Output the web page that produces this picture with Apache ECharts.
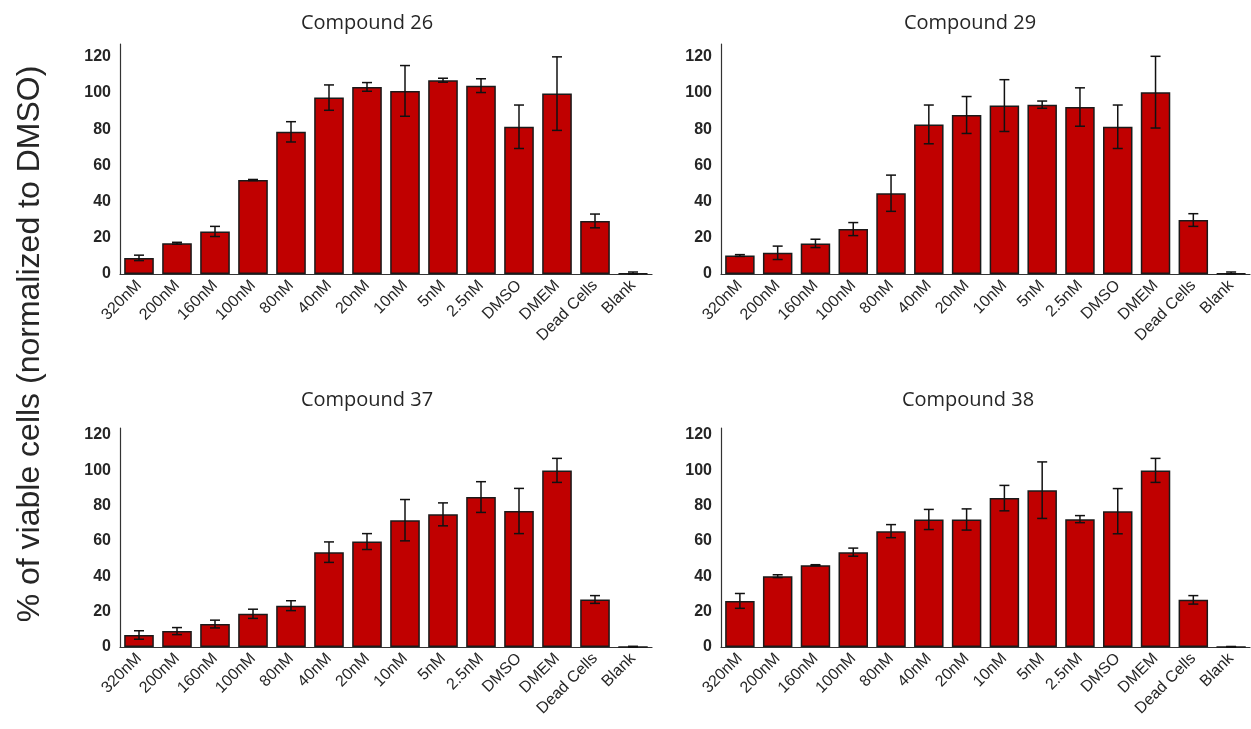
<!DOCTYPE html>
<html>
<head>
<meta charset="utf-8">
<script src="https://cdn.jsdelivr.net/npm/echarts@6/dist/echarts.min.js"></script>
<style>
  html, body { margin: 0; padding: 0; background: #ffffff; }
  #chart { width: 1251px; height: 729px; }
</style>
</head>
<body>
<div id="chart"></div>
<script>
// Treatment groups along the x axis (shared by all four panels)
const categories = ['320nM', '200nM', '160nM', '100nM', '80nM', '40nM', '20nM', '10nM', '5nM', '2.5nM', 'DMSO', 'DMEM', 'Dead Cells', 'Blank'];

// Mean % viable cells and error (±) per compound
const c26Mean = [8.9, 17.0, 23.5, 51.9, 78.5, 97.4, 103.3, 101.1, 107.0, 104.0, 81.3, 99.6, 29.3, 0.3];
const c26Err  = [1.5, 0.5, 2.8, 0.3, 5.6, 7.0, 2.4, 14.0, 1.1, 3.8, 12.0, 20.3, 3.8, 0.8];

const c29Mean = [10.2, 11.7, 16.9, 24.8, 44.6, 82.6, 87.8, 93.0, 93.5, 92.2, 81.3, 100.4, 29.8, 0.3];
const c29Err  = [0.5, 3.7, 2.3, 3.6, 10.0, 10.7, 10.2, 14.3, 2.0, 10.6, 12.0, 19.8, 3.5, 0.8];

const c37Mean = [6.8, 9.0, 13.0, 18.8, 23.4, 53.7, 59.7, 71.8, 75.1, 84.9, 77.0, 100.0, 26.9, 0.1];
const c37Err  = [2.4, 2.0, 2.2, 2.6, 2.8, 5.8, 4.5, 11.7, 6.5, 8.7, 12.8, 6.8, 2.2, 0.3];

const c38Mean = [26.1, 40.1, 46.3, 53.7, 65.6, 72.2, 72.2, 84.3, 88.8, 72.4, 76.9, 100.0, 26.7, 0.1];
const c38Err  = [4.2, 0.8, 0.3, 2.3, 3.7, 5.7, 6.0, 7.2, 16.0, 2.0, 12.8, 6.8, 2.4, 0.2];

const panelTitles = ['Compound 26', 'Compound 29', 'Compound 37', 'Compound 38'];
const yTicks = [0, 20, 40, 60, 80, 100, 120];
const yTitle = '% of viable cells (normalized to DMSO)';

const panels = [
  { mean: c26Mean, err: c26Err },
  { mean: c29Mean, err: c29Err },
  { mean: c37Mean, err: c37Err },
  { mean: c38Mean, err: c38Err }
];

// Panel layout (pixels)
const grids = [
  { left: 120, top: 44, width: 532, height: 230, max: 127 },
  { left: 721, top: 44, width: 529, height: 230, max: 127 },
  { left: 120, top: 428, width: 532, height: 219, max: 124 },
  { left: 721, top: 428, width: 529, height: 219, max: 124 }
];
const titlePos = [[367, 23], [970, 23], [367, 400], [968, 400]];

const textColor = '#262626';
const barColor = '#c00000';

// Vertical error bar with caps, drawn in data coordinates
function renderErrorBar(params, api) {
  const x = api.value(0);
  const lo = api.coord([x, api.value(1)]);
  const hi = api.coord([x, api.value(2)]);
  const half = 5;
  const style = { stroke: '#111111', lineWidth: 1.5 };
  return {
    type: 'group',
    children: [
      { type: 'line', shape: { x1: hi[0], y1: hi[1], x2: lo[0], y2: lo[1] }, style: style },
      { type: 'line', shape: { x1: hi[0] - half, y1: hi[1], x2: hi[0] + half, y2: hi[1] }, style: style },
      { type: 'line', shape: { x1: lo[0] - half, y1: lo[1], x2: lo[0] + half, y2: lo[1] }, style: style }
    ]
  };
}

const option = {
  backgroundColor: '#ffffff',
  animation: false,
  grid: grids.map(g => ({ left: g.left, top: g.top, width: g.width, height: g.height, containLabel: false })),
  xAxis: grids.map((g, i) => ({
    type: 'category',
    gridIndex: i,
    data: categories,
    axisLine: { show: true, lineStyle: { color: '#333333', width: 1.2 } },
    axisTick: { show: false },
    axisLabel: {
      interval: 0,
      rotate: 45,
      margin: 9,
      color: textColor,
      fontFamily: 'Liberation Sans, Arial, sans-serif',
      fontSize: 16
    }
  })),
  yAxis: grids.map((g, i) => ({
    type: 'value',
    gridIndex: i,
    min: 0,
    max: g.max,
    interval: 20,
    splitLine: { show: false },
    axisTick: { show: false },
    axisLine: { show: true, lineStyle: { color: '#333333', width: 1.2 } },
    axisLabel: {
      showMaxLabel: false,
      margin: 9,
      color: textColor,
      fontFamily: 'Liberation Sans, Arial, sans-serif',
      fontWeight: 'bold',
      fontSize: 16,
      formatter: v => (yTicks.indexOf(v) >= 0 ? String(v) : '')
    }
  })),
  series: [],
  graphic: []
};

panels.forEach((p, i) => {
  option.series.push({
    type: 'bar',
    xAxisIndex: i,
    yAxisIndex: i,
    data: p.mean,
    barCategoryGap: '22%',
    itemStyle: { color: barColor, borderColor: '#1a1a1a', borderWidth: 1.5 }
  });
  option.series.push({
    type: 'custom',
    xAxisIndex: i,
    yAxisIndex: i,
    z: 5,
    renderItem: renderErrorBar,
    encode: { x: 0, y: [1, 2] },
    data: p.mean.map((m, k) => [k, Math.max(0, m - p.err[k]), m + p.err[k]])
  });
  option.graphic.push({
    type: 'text',
    x: titlePos[i][0],
    y: titlePos[i][1],
    style: {
      text: panelTitles[i],
      font: '20px "Open Sans", "Noto Sans", sans-serif',
      fill: textColor,
      textAlign: 'center',
      textVerticalAlign: 'middle'
    }
  });
});

// Shared y-axis title, rotated
option.graphic.push({
  type: 'text',
  x: 30,
  y: 344,
  rotation: Math.PI / 2,
  style: {
    text: yTitle,
    font: '32px "Liberation Sans", Arial, sans-serif',
    fill: textColor,
    textAlign: 'center',
    textVerticalAlign: 'middle'
  }
});

const chart = echarts.init(document.getElementById('chart'), null, { renderer: 'canvas' });
chart.setOption(option);
</script>
</body>
</html>
